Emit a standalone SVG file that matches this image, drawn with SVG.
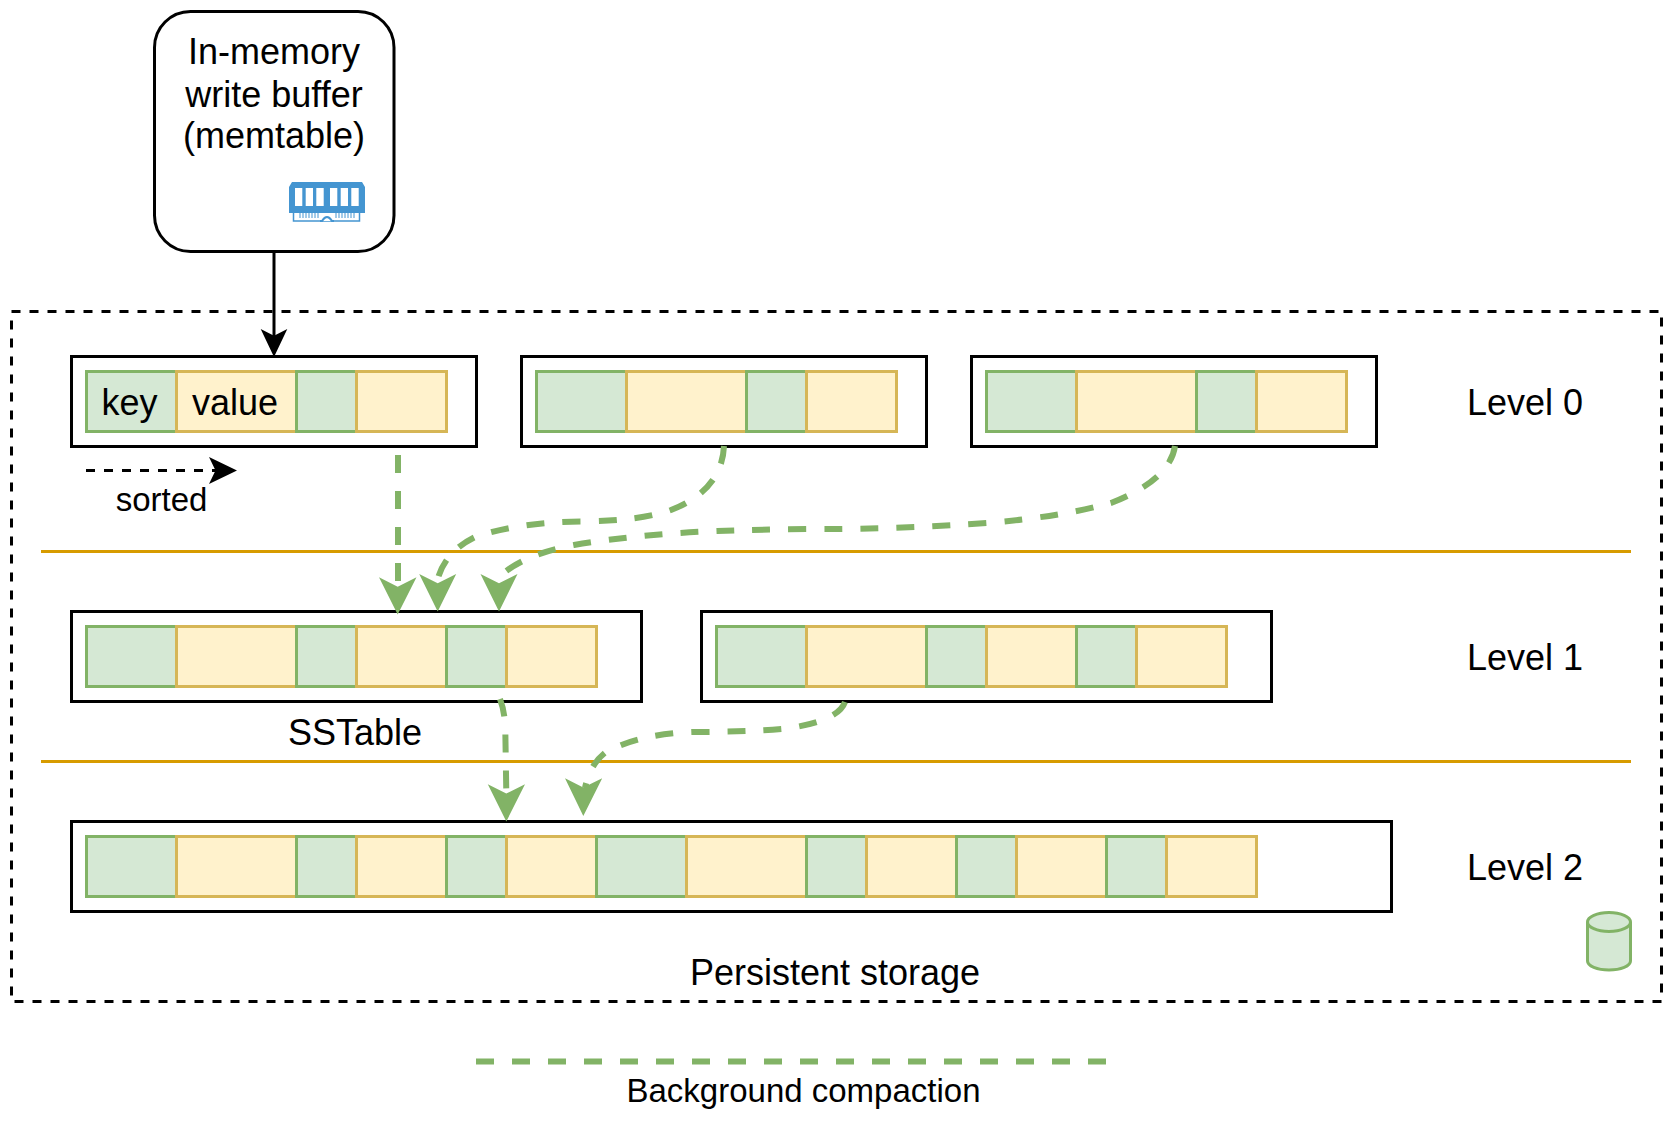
<svg xmlns="http://www.w3.org/2000/svg" width="1676" height="1121" viewBox="0 0 1676 1121">
<style>
text{font-family:"Liberation Sans",Arial,sans-serif;fill:#000;text-anchor:middle;font-size:36px}
.box{fill:#fff;stroke:#000;stroke-width:3}
.k{fill:#d5e8d4;stroke:#82b366;stroke-width:3}
.v{fill:#fff2cc;stroke:#d6b656;stroke-width:3}
.sep{stroke:#d79b00;stroke-width:3;fill:none}
.comp{fill:none;stroke:#82b366;stroke-width:6;stroke-dasharray:18 18}
.gh{fill:#82b366}
</style>
<defs>
<g id="cells4"><rect class="k" width="90" height="60"/><rect class="v" x="90" width="120" height="60"/><rect class="k" x="210" width="60" height="60"/><rect class="v" x="270" width="90" height="60"/></g>
<g id="cells2"><rect class="k" width="60" height="60"/><rect class="v" x="60" width="90" height="60"/></g>
</defs>
<rect id="storage" x="11.500" y="311.500" width="1650" height="690" fill="none" stroke="#000" stroke-width="3" stroke-dasharray="9 9"/>
<g id="memtable">
<rect class="box" x="154.500" y="11.500" width="239.500" height="240" rx="36" ry="36"/>
<text x="274" y="64">In-memory</text><text x="274" y="107">write buffer</text><text x="274" y="148">(memtable)</text>
<g id="ram-icon">
<path d="M289,187 L292,182 L362,182 L365,187 L365,213 L289,213 Z" fill="#4495d1"/>
<path d="M293.500,213 V221 H359.500 V213" fill="none" stroke="#4495d1" stroke-width="1.500"/>
<path d="M295,188h7.300v18h-7.300zM305.700,188h7.300v18h-7.300zM316.300,188h7.400v18h-7.400zM330,188h7.300v18h-7.300zM340.700,188h7.300v18h-7.300zM351.300,188h7.400v18h-7.400z" fill="#fff"/>
<path d="M300,213v5M303,213v5M306,213v5M309,213v5M312,213v5M315,213v5M318,213v5M336,213v5M339,213v5M342,213v5M345,213v5M348,213v5M351,213v5M354,213v5" stroke="#4495d1" stroke-width="1"/>
<path d="M320,221 H322 Q327,213 332,221 H334" fill="#fff" stroke="#4495d1" stroke-width="2"/>
</g>
</g>
<g id="l0a"><rect class="box" x="71.500" y="356.500" width="405" height="90"/><use href="#cells4" x="86.500" y="371.500"/>
<text x="129.500" y="415">key</text><text x="235" y="415">value</text></g>
<g id="l0b"><rect class="box" x="521.500" y="356.500" width="405" height="90"/><use href="#cells4" x="536.500" y="371.500"/></g>
<g id="l0c"><rect class="box" x="971.500" y="356.500" width="405" height="90"/><use href="#cells4" x="986.500" y="371.500"/></g>
<g id="l1a"><rect class="box" x="71.500" y="611.500" width="570" height="90"/><use href="#cells4" x="86.500" y="626.500"/><use href="#cells2" x="446.500" y="626.500"/></g>
<g id="l1b"><rect class="box" x="701.500" y="611.500" width="570" height="90"/><use href="#cells4" x="716.500" y="626.500"/><use href="#cells2" x="1076.500" y="626.500"/></g>
<g id="l2"><rect class="box" x="71.500" y="821.500" width="1320" height="90"/><use href="#cells4" x="86.500" y="836.500"/><use href="#cells2" x="446.500" y="836.500"/><use href="#cells4" x="596.500" y="836.500"/><use href="#cells2" x="956.500" y="836.500"/><use href="#cells2" x="1106.500" y="836.500"/></g>
<g id="labels">
<text x="161.500" y="511" style="font-size:33px">sorted</text>
<text x="355" y="745">SSTable</text>
<text x="1525" y="415">Level 0</text><text x="1525" y="670">Level 1</text><text x="1525" y="880">Level 2</text>
<text x="835" y="985">Persistent storage</text>
<text x="803.500" y="1102" style="font-size:33px">Background compaction</text>
</g>
<g id="db"><path d="M1587.500,922 V961 A21.500,9 0 0 0 1630.500,961 V922 A21.500,9.500 0 0 0 1587.500,922 A21.500,9.500 0 0 0 1630.500,922" fill="#d5e8d4" stroke="#82b366" stroke-width="3"/></g>
<g id="connectors">
<path class="sep" d="M41,551.500H1631M41,761.500H1631"/>
<path d="M274,251V337" fill="none" stroke="#000" stroke-width="3"/>
<path d="M274,357L260.700,329L274,335.700L287.300,329Z" fill="#000"/>
<path d="M86,470.500H216" fill="none" stroke="#000" stroke-width="3" stroke-dasharray="9 9"/>
<path d="M237,470.500L209,457L215.500,470.500L209,484Z" fill="#000"/>
<path class="comp" d="M398,455V592"/><path class="gh" d="M397.700,614.500L379,577.300L397.700,586.700L416.500,577.300Z"/>
<path class="comp" d="M724,446Q722,490 671,510Q640,521 581,521.500Q520,522 475,537Q446,551 438,578"/><path class="gh" d="M437.700,611.500L419.200,574L437.700,583.300L456.200,574Z"/>
<path class="comp" d="M1175,446Q1170,480 1111,503Q1060,517 987,523Q900,529 825,529Q770,529 717,531Q640,534 574,545Q525,554 500,576"/><path class="gh" d="M499,611.500L480.500,574L499,583.300L517.500,574Z"/>
<path class="comp" d="M500,699Q505,712 505.300,730L506.300,792"/><path class="gh" d="M506.300,821.500L487.800,784.300L506.300,793.500L525,784.300Z"/>
<path class="comp" d="M845,702Q838,722 782,729Q745,732 692,732Q640,734 606,752Q590,764 585,788"/><path class="gh" d="M583.300,816L565,778.300L583.300,787.500L602.200,778.300Z"/>
<path class="comp" d="M476,1061.500H1107.500"/>
</g>
</svg>
